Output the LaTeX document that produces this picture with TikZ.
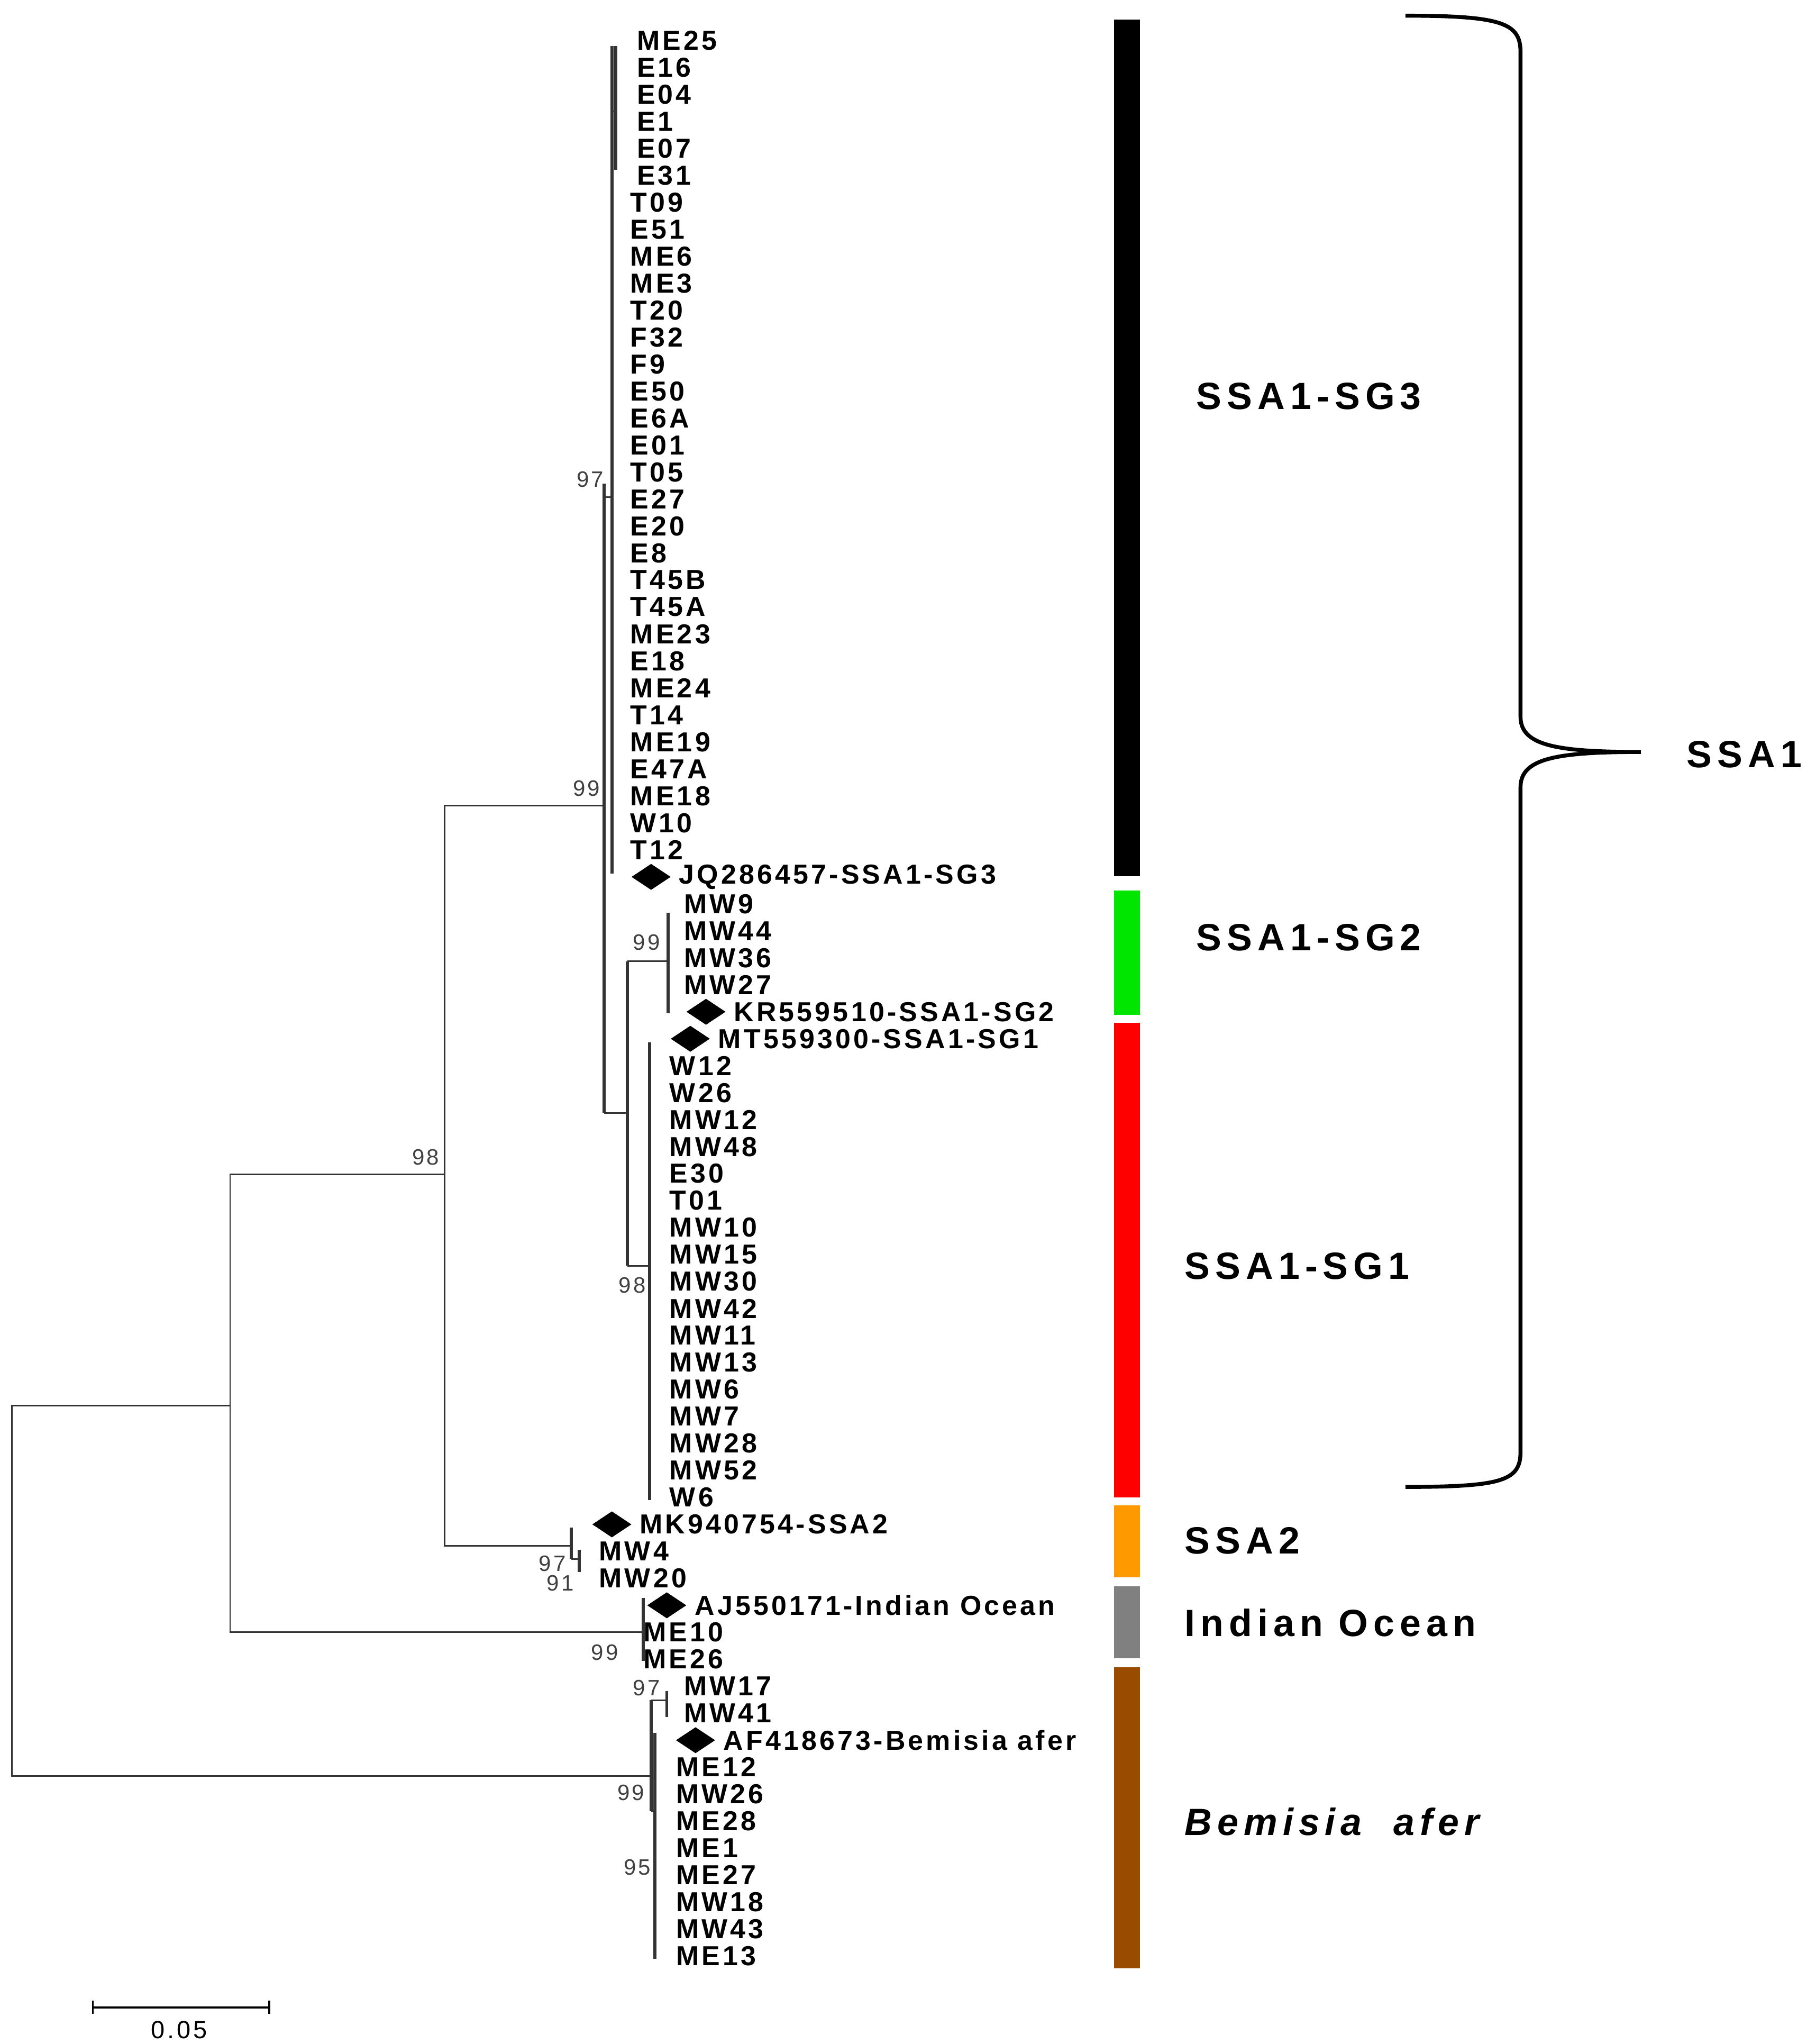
\documentclass[tikz,border=0pt]{standalone}
\usepackage{fontspec}
\setmainfont{Liberation Sans}
\usetikzlibrary{shapes.geometric,positioning}

\tikzset{
  tip/.style={anchor=west,inner sep=0pt,font=\fontsize{21}{22}\selectfont\bfseries\addfontfeature{LetterSpace=10}},
  boot/.style={anchor=south east,inner sep=1pt,text=black!75,font=\fontsize{17}{18}\selectfont\addfontfeature{LetterSpace=10}},
  ref/.style={diamond,fill=black,minimum width=30pt,minimum height=20pt,inner sep=0pt},
  branch/.style={line width=1.2pt,black!80},
  stem/.style={line width=2.4pt,black!80},
  bar/.style={line width=20pt},
  group/.style={anchor=west,inner sep=0pt,font=\fontsize{29}{30}\selectfont\bfseries\addfontfeature{LetterSpace=14}}
}
\definecolor{sggreen}{RGB}{0,230,0}
\definecolor{sgred}{RGB}{255,0,0}
\definecolor{sgorange}{RGB}{255,153,0}
\definecolor{sggray}{RGB}{128,128,128}
\definecolor{sgbrown}{RGB}{153,76,0}
\newcommand{\rowy}[1]{-31-20.63*#1}

\begin{document}
\begin{tikzpicture}[x=1pt,y=1pt]
\useasboundingbox (0,0) rectangle (1389,-1563);

% tip labels
\foreach \lbl [count=\i from 0] in {ME25,E16,E04,E1,E07,E31}
  \node[tip] (t\i) at (487,{\rowy{\i}}) {\lbl};
\foreach \lbl [count=\i from 6] in {T09,E51,ME6,ME3,T20,F32,F9,E50,E6A,E01,T05,E27,E20,E8,T45B,T45A,ME23,E18,ME24,T14,ME19,E47A,ME18,W10,T12}
  \node[tip] (t\i) at (482,{\rowy{\i}}) {\lbl};
\foreach \lbl [count=\i from 32] in {MW9,MW44,MW36,MW27}
  \node[tip] (t\i) at (523,{\rowy{\i}}) {\lbl};
\foreach \lbl [count=\i from 38] in {W12,W26,MW12,MW48,E30,T01,MW10,MW15,MW30,MW42,MW11,MW13,MW6,MW7,MW28,MW52,W6}
  \node[tip] (t\i) at (512,{\rowy{\i}}) {\lbl};
\foreach \lbl [count=\i from 56] in {MW4,MW20}
  \node[tip] (t\i) at (458,{\rowy{\i}}) {\lbl};
\foreach \lbl [count=\i from 59] in {ME10,ME26}
  \node[tip] (t\i) at (492,{\rowy{\i}}) {\lbl};
\foreach \lbl [count=\i from 61] in {MW17,MW41}
  \node[tip] (t\i) at (523,{\rowy{\i}}) {\lbl};
\foreach \lbl [count=\i from 64] in {ME12,MW26,ME28,ME1,ME27,MW18,MW43,ME13}
  \node[tip] (t\i) at (517,{\rowy{\i}}) {\lbl};

% reference sequences
\node[ref] (jq) at (498,{\rowy{31}}) {};
\node[tip,right=6pt of jq] {JQ286457-SSA1-SG3};
\node[ref] (kr) at (540,{\rowy{36}}) {};
\node[tip,right=6pt of kr] {KR559510-SSA1-SG2};
\node[ref] (mt) at (528,{\rowy{37}}) {};
\node[tip,right=6pt of mt] {MT559300-SSA1-SG1};
\node[ref] (mk) at (468,{\rowy{55}}) {};
\node[tip,right=6pt of mk] {MK940754-SSA2};
\node[ref] (aj) at (510,{\rowy{58}}) {};
\node[tip,right=6pt of aj] {AJ550171-Indian Ocean};
\node[ref] (af) at (532,{\rowy{63}}) {};
\node[tip,right=6pt of af] {AF418673-Bemisia afer};

% branches
\draw[branch] (176,-1075) -| (9,-1358) -- (498,-1358);
\draw[branch] (340,-898) -| (176,-1248) -- (492,-1248);
\draw[branch] (462,-616) -| (340,-1182) -- (437,-1182);
\draw[branch] (462,-851) -- (480,-851);
\draw[branch] (480,-735) -- (511,-735);
\draw[branch] (480,-968) -- (497,-968);
\draw[branch] (462,-380) -- (468,-380);
\draw[branch] (468,-85) -- (471,-85);
\draw[branch] (437,-1192) -- (443,-1192);
\draw[branch] (498,-1300) -- (510,-1300);
\draw[branch] (498,-1385) -- (501,-1385);
\draw[stem] (462,-370) -- (462,-851);
\draw[stem] (468,-35) -- (468,-668);
\draw[stem] (471,-35) -- (471,-130);
\draw[stem] (480,-735) -- (480,-968);
\draw[stem] (511,-698) -- (511,-775);
\draw[stem] (497,-797) -- (497,-1147);
\draw[stem] (437,-1168) -- (437,-1192);
\draw[stem] (443,-1185) -- (443,-1202);
\draw[stem] (492,-1222) -- (492,-1270);
\draw[stem] (498,-1300) -- (498,-1385);
\draw[stem] (510,-1293) -- (510,-1313);
\draw[stem] (501,-1325) -- (501,-1498);

% bootstrap values
\node[boot] at (463,-374) {97};
\node[boot] at (460,-610) {99};
\node[boot] at (337,-892) {98};
\node[boot] at (506,-728) {99};
\node[boot] at (495,-990) {98};
\node[boot] at (434,-1203) {97};
\node[boot] at (440,-1218) {91};
\node[boot] at (474,-1271) {99};
\node[boot] at (506,-1298) {97};
\node[boot] at (494,-1378) {99};
\node[boot] at (499,-1435) {95};

% clade bars
\draw[bar] (862,-15) -- (862,-670);
\draw[bar,sggreen] (862,-681) -- (862,-776);
\draw[bar,sgred] (862,-782) -- (862,-1145);
\draw[bar,sgorange] (862,-1151) -- (862,-1206);
\draw[bar,sggray] (862,-1213) -- (862,-1268);
\draw[bar,sgbrown] (862,-1275) -- (862,-1505);

% clade names
\node[group] (sg3) at (915,-303) {SSA1-SG3};
\node[group] (sg2) at (915,-717) {SSA1-SG2};
\node[group] (sg1) at (906,-968) {SSA1-SG1};
\node[group] (ssa2) at (906,-1178) {SSA2};
\node[group] (io) at (906,-1241) {Indian Ocean};
\node[group,font=\fontsize{29}{30}\selectfont\bfseries\itshape\addfontfeature{LetterSpace=14}] (ba) at (906,-1393) {Bemisia\ \ afer};

% brace
\coordinate (bt) at (1075,-12);
\coordinate (bb) at (1075,-1137);
\coordinate (bm) at (1255,-575);
\draw[line width=3pt] (bt) .. controls (1150,-12) and (1163,-18) .. (1163,-40)
  -- (1163,-548) .. controls (1163,-570) and (1190,-575) .. (bm)
  .. controls (1190,-575) and (1163,-580) .. (1163,-602)
  -- (1163,-1110) .. controls (1163,-1132) and (1150,-1137) .. (bb);
\node[group] (ssa1) at (1290,-577) {SSA1};

% scale bar
\draw[line width=1.5pt] (71,-1530) -- (71,-1540) (71,-1535) -- (206,-1535) (206,-1530) -- (206,-1540);
\node[font=\fontsize{19}{20}\selectfont\addfontfeature{LetterSpace=10}] (scale) at (137,-1552) {0.05};
\end{tikzpicture}
\end{document}
